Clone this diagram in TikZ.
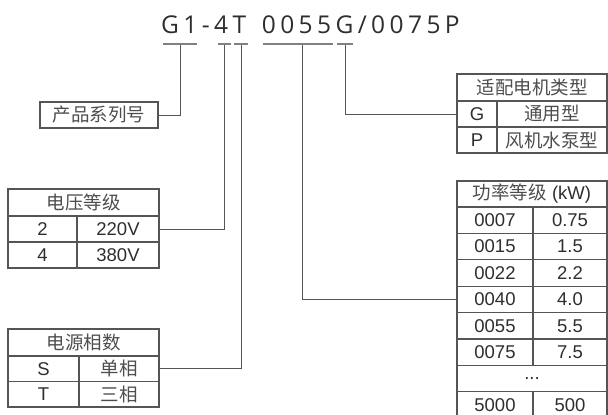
\documentclass[tikz,border=0pt]{standalone}
\usepackage{fontspec}
\setmainfont{Liberation Sans}
\newfontfamily\cjk{Noto Sans CJK SC}
\newfontfamily\codefont[LetterSpace=18]{Open Sans}
\usetikzlibrary{calc}
\definecolor{inkgray}{HTML}{2e2e2e}
\definecolor{rulegray}{HTML}{555555}
\definecolor{bargray}{HTML}{808080}

\tikzset{
	cell/.style={draw=rulegray, line width=1.1pt, inner sep=0pt, text=inkgray, font=\fontsize{18.5}{19}\selectfont},
	head/.style={cell, text=inkgray!85, font=\cjk\fontsize{18.5}{19}\selectfont},
	bar/.style={fill=bargray, inner sep=0pt, minimum height=1.6pt},
	wire/.style={draw=rulegray, line width=1pt}
}

\begin{document}
\begin{tikzpicture}[x=1pt,y=-1pt]
	\useasboundingbox (0,0) rectangle (608,415);

	\node[anchor=base west, inner sep=0pt, text=inkgray, font=\codefont\fontsize{24.5}{26}\selectfont] (code) at (161,33) {G1-4T \hspace{5pt}0055G/0075P};

	\begin{scope}[every node/.style={bar}]
	\node[minimum width=34pt] (barS) at (180,44) {};
	\node[minimum width=13pt] (barV) at (224.5,44) {};
	\node[minimum width=14pt] (barP) at (241,44) {};
	\node[minimum width=70pt] (barK) at (298,44) {};
	\node[minimum width=16pt] (barM) at (345,44) {};
	\end{scope}

	\node[head, minimum width=118pt, minimum height=26pt] (series) at (99,115) {产品系列号};

	\begin{scope}[every node/.append style={minimum height=26pt}]
	\node[head, minimum width=151pt, minimum height=27pt] (vhead) at (83.5,202.5) {电压等级};
	\node[cell, minimum width=69pt] (vtwo) at (42.5,229) {2};
	\node[cell, minimum width=82pt] (v220) at (118,229) {220V};
	\node[cell, minimum width=69pt] (vfour) at (42.5,255) {4};
	\node[cell, minimum width=82pt] (v380) at (118,255) {380V};
	\end{scope}

	\begin{scope}[every node/.append style={minimum height=25.5pt}]
	\node[head, minimum width=151pt, minimum height=27pt] (phead) at (83.5,342.5) {电源相数};
	\node[cell, minimum width=71pt] (phS) at (43.5,368.75) {S};
	\node[head, minimum width=80pt] (phSingle) at (119,368.75) {单相};
	\node[cell, minimum width=71pt] (phT) at (43.5,394.25) {T};
	\node[head, minimum width=80pt] (phThree) at (119,394.25) {三相};
	\end{scope}

	\begin{scope}[every node/.append style={minimum height=26pt}]
	\node[head, minimum width=150pt, minimum height=27pt] (mhead) at (532,87.5) {适配电机类型};
	\node[cell, minimum width=40pt] (mG) at (477,114) {G};
	\node[head, minimum width=110pt] (mGen) at (552,114) {通用型};
	\node[cell, minimum width=40pt] (mP) at (477,140) {P};
	\node[head, minimum width=110pt] (mPump) at (552,140) {风机水泵型};
	\end{scope}

	\begin{scope}[every node/.append style={minimum height=26.4pt}]
	\node[cell, minimum width=150pt, minimum height=26pt] (kwhead) at (532,194) {{\cjk\color{inkgray!85}功率等级} (kW)};
	\node[cell, minimum width=76pt] (k0007) at (495,220.2) {0007};
	\node[cell, minimum width=74pt] (w0007) at (570,220.2) {0.75};
	\node[cell, minimum width=76pt] (k0015) at (495,246.6) {0015};
	\node[cell, minimum width=74pt] (w0015) at (570,246.6) {1.5};
	\node[cell, minimum width=76pt] (k0022) at (495,273) {0022};
	\node[cell, minimum width=74pt] (w0022) at (570,273) {2.2};
	\node[cell, minimum width=76pt] (k0040) at (495,299.4) {0040};
	\node[cell, minimum width=74pt] (w0040) at (570,299.4) {4.0};
	\node[cell, minimum width=76pt] (k0055) at (495,325.8) {0055};
	\node[cell, minimum width=74pt] (w0055) at (570,325.8) {5.5};
	\node[cell, minimum width=76pt] (k0075) at (495,352.2) {0075};
	\node[cell, minimum width=74pt] (w0075) at (570,352.2) {7.5};
	\node[cell, minimum width=150pt] (kdots) at (532,378.6) {...};
	\node[cell, minimum width=76pt] (k5000) at (495,405) {5000};
	\node[cell, minimum width=74pt] (w5000) at (570,405) {500};
	\end{scope}

	% leader lines from the code to the tables
	\draw[wire] (barS.south) |- (series.east);
	\draw[wire] (barV.south) |- (v220.east);
	\draw[wire] (barP.south) |- (phSingle.east);
	\draw[wire] ([xshift=4.5pt]barK.south) |- (k0040.west);
	\draw[wire] (barM.south) |- (mG.west);
\end{tikzpicture}
\end{document}
